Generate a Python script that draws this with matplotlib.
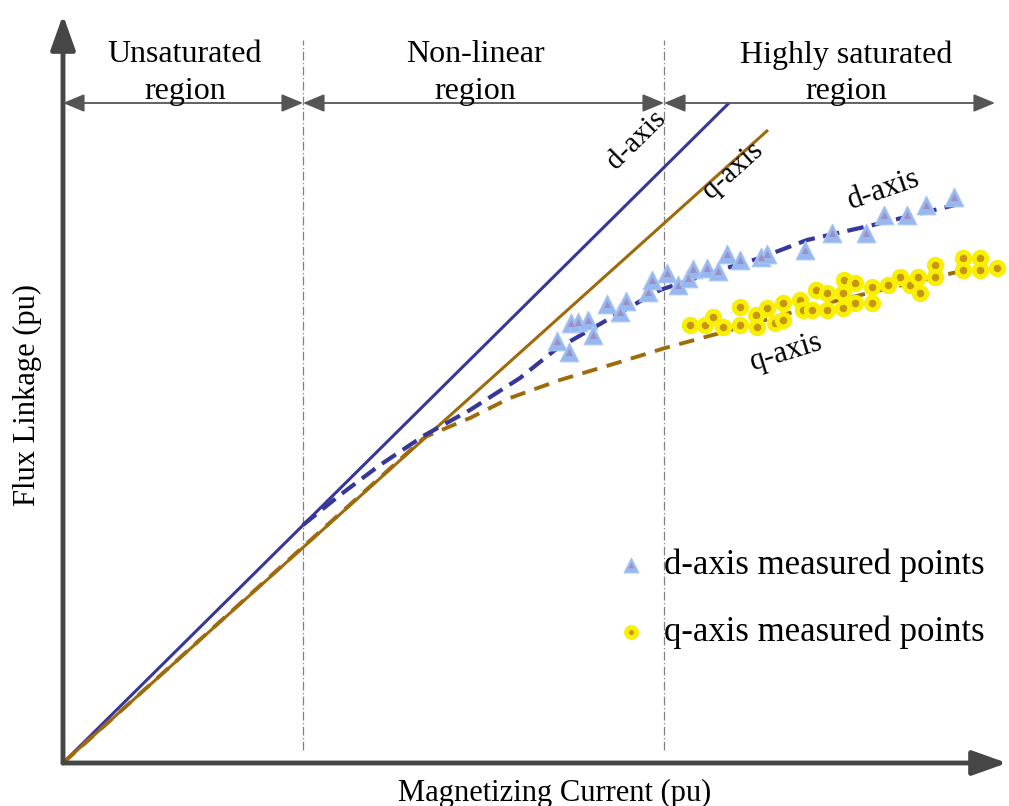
import numpy as np
import matplotlib
matplotlib.use("Agg")
import matplotlib.pyplot as plt

plt.rcParams['font.family'] = ['Liberation Serif', 'DejaVu Serif']

# linear (unsaturated) inductance lines, end points
d_lin_x = [0.0, 6.66]
d_lin_y = [0.0, 6.60]
q_lin_x = [0.0, 7.05]
q_lin_y = [0.0, 6.33]

# saturated magnetizing curves
d_sat_x = [2.40, 2.77, 3.17, 3.62, 4.07, 4.57, 4.92, 5.44, 5.97, 6.57, 6.97, 7.44, 8.10, 8.92]
d_sat_y = [2.38, 2.68, 2.98, 3.28, 3.53, 3.85, 4.13, 4.43, 4.73, 4.93, 5.05, 5.23, 5.38, 5.58]
q_sat_x = [0.0, 3.62, 4.07, 4.47, 4.97, 5.57, 6.02, 6.57, 7.44, 8.10, 8.94]
q_sat_y = [0.0, 3.26, 3.45, 3.65, 3.83, 4.01, 4.15, 4.30, 4.55, 4.71, 4.91]

# measured points
d_meas_x = [4.94, 5.06, 5.08, 5.15, 5.25, 5.30, 5.44, 5.57, 5.63, 5.85, 5.89, 6.04, 6.15, 6.25,
            6.30, 6.44, 6.55, 6.64, 6.77, 6.98, 7.04, 7.42, 7.69, 8.03, 8.21, 8.44, 8.63, 8.91]
d_meas_y = [4.22, 4.11, 4.40, 4.41, 4.43, 4.28, 4.59, 4.51, 4.62, 4.71, 4.83, 4.90, 4.78, 4.85,
            4.94, 4.95, 4.92, 5.09, 5.03, 5.06, 5.09, 5.13, 5.30, 5.30, 5.48, 5.48, 5.58, 5.66]
q_meas_x = [6.27, 6.42, 6.50, 6.60, 6.77, 6.77, 6.93, 6.94, 7.04, 7.12, 7.20, 7.20, 7.37, 7.40,
            7.49, 7.53, 7.64, 7.64, 7.80, 7.80, 7.81, 7.92, 7.92, 8.09, 8.09, 8.25, 8.37, 8.47,
            8.55, 8.57, 8.72, 8.72, 9.00, 9.00, 9.17, 9.17, 9.34]
q_meas_y = [4.38, 4.38, 4.46, 4.36, 4.38, 4.56, 4.48, 4.36, 4.55, 4.40, 4.43, 4.60, 4.63, 4.53,
            4.53, 4.73, 4.70, 4.53, 4.55, 4.70, 4.83, 4.80, 4.60, 4.76, 4.60, 4.78, 4.86, 4.78,
            4.86, 4.70, 4.98, 4.86, 5.05, 4.93, 5.05, 4.93, 4.95]

# region borders and labels
region_edges = [0.0, 2.40, 6.01, 9.32]
region_names = ['Unsaturated\nregion', 'Non-linear\nregion', 'Highly saturated\nregion']
region_label_x = [1.22, 4.12, 7.83]

blue = '#37379a'
brown = '#9e6a0a'
axcol = '#464646'

fig = plt.figure(figsize=(10.09, 8.06), dpi=100)
ax = fig.add_axes([0, 0, 1, 1])
ax.set_xlim(-0.63, 9.46)
ax.set_ylim(-0.43, 7.63)
ax.axis('off')

# main axes with arrow heads
ax.annotate('', xy=(9.44, 0), xytext=(0, 0),
            arrowprops=dict(arrowstyle='-|>,head_length=0.7,head_width=0.25', lw=3.5,
                            color=axcol, mutation_scale=30, shrinkA=0, shrinkB=0))
ax.annotate('', xy=(0, 7.48), xytext=(0, 0),
            arrowprops=dict(arrowstyle='-|>,head_length=0.7,head_width=0.25', lw=3.5,
                            color=axcol, mutation_scale=30, shrinkA=0, shrinkB=0))

# region separators
for xe in region_edges[1:3]:
    ax.plot([xe, xe], [0.13, 7.23], color='#808080', lw=0.9, ls=(0, (7, 2, 1, 2)))

for i in range(3):
    ax.annotate('', xy=(region_edges[i + 1], 6.60), xytext=(region_edges[i], 6.60),
                arrowprops=dict(arrowstyle='<|-|>,head_length=0.6,head_width=0.25', lw=1.3,
                                color='#555555', mutation_scale=22, shrinkA=0, shrinkB=0))
    ax.text(region_label_x[i], 6.90, region_names[i], ha='center', va='center',
            fontsize=23, linespacing=1.33)

# lines
ax.plot(d_lin_x, d_lin_y, color=blue, lw=2.2, solid_capstyle='butt')
ax.plot(q_lin_x, q_lin_y, color=brown, lw=2.2, solid_capstyle='butt')
ax.plot(q_sat_x, q_sat_y, color=brown, lw=2.8, dashes=(4, 2.5))
ax.plot(d_sat_x, d_sat_y, color=blue, lw=3.0, dashes=(4, 2))

# measured data
t1 = ax.scatter(d_meas_x, d_meas_y, marker='^', s=180, color='#96b8ef', edgecolors='#a8c6f5',
                linewidths=0.8, zorder=5)
t2 = ax.scatter(d_meas_x, d_meas_y, marker='^', s=26, color='#9d8fc6', linewidths=0, zorder=6)
c1 = ax.scatter(q_meas_x, q_meas_y, marker='o', s=81, color='#c69612', edgecolors='#f8f000',
                linewidths=3.5, zorder=5)

ax.legend([(t1, t2), c1], ['d-axis measured points', 'q-axis measured points'],
          loc='upper left', bbox_to_anchor=(0.6085, 0.319), frameon=False, fontsize=25,
          handlelength=1.0, handletextpad=0.45, labelspacing=0.95, borderpad=0,
          borderaxespad=0, scatterpoints=1, markerscale=0.8)

# curve annotations
ax.text(5.73, 6.23, 'd-axis', rotation=44.7, ha='center', va='center', fontsize=21)
ax.text(6.70, 5.93, 'q-axis', rotation=41.9, ha='center', va='center', fontsize=21)
ax.text(8.21, 5.73, 'd-axis', rotation=19, ha='center', va='center', fontsize=22)
ax.text(7.23, 4.11, 'q-axis', rotation=17, ha='center', va='center', fontsize=22)

ax.text(-0.36, 3.68, 'Flux Linkage (pu)', rotation=90, ha='center', va='center', fontsize=22)
ax.text(4.92, -0.30, 'Magnetizing Current (pu)', ha='center', va='center', fontsize=22)

fig.savefig('out.png', dpi=100)
